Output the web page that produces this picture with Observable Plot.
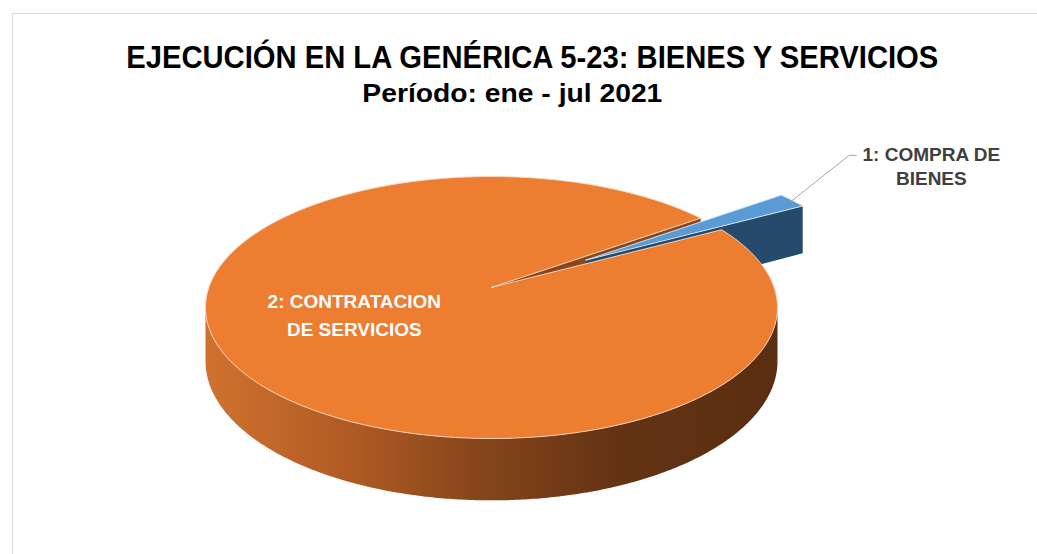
<!DOCTYPE html>
<html><head><meta charset="utf-8">
<script src="https://cdn.jsdelivr.net/npm/d3@7"></script>
<script src="https://cdn.jsdelivr.net/npm/@observablehq/plot@0.6"></script>
<style>
html,body{margin:0;padding:0;background:#fff;}
#chart{position:relative;width:1037px;height:554px;overflow:hidden;font-family:"Liberation Sans",Arial,sans-serif;}
#marco{position:absolute;left:12px;top:13px;right:-3px;bottom:-3px;border-top:1px solid #d9d9d9;border-left:1px solid #d9d9d9;}
.tt{position:absolute;width:1037px;text-align:center;white-space:nowrap;font-weight:bold;color:#000;font-family:"Liberation Sans Narrow","Liberation Sans",sans-serif;}
.tt span{display:inline-block;transform-origin:50% 50%;}
#titulo{left:13.5px;top:42px;font-size:30.5px;line-height:30.5px;}
#subtitulo{left:-6.5px;top:81px;font-size:25.5px;line-height:25.5px;}
#plot{position:absolute;left:0;top:130px;}
</style></head><body>
<div id="chart"><div id="marco"></div>
<div id="titulo" class="tt"><span></span></div>
<div id="subtitulo" class="tt"><span></span></div>
<div id="plot"></div></div>
<script>
// ---- datos ----
const titulo = "EJECUCIÓN EN LA GENÉRICA 5-23: BIENES Y SERVICIOS";
const subtitulo = "Período: ene - jul 2021";
const categorias = ["1: COMPRA DE BIENES", "2: CONTRATACION DE SERVICIOS"];
const etiquetas = ["1: COMPRA DE\nBIENES", "2: CONTRATACION\nDE SERVICIOS"];
const porcentajes = [2.0, 98.0];

// ---- títulos ----
document.querySelector("#titulo span").textContent = titulo;
document.querySelector("#subtitulo span").textContent = subtitulo;
function ajustar(sel, ancho) {
  const s = document.querySelector(sel + " span");
  const w = s.getBoundingClientRect().width;
  if (w > 0) s.style.transform = `scaleX(${ancho / w})`;
}
ajustar("#titulo", 812);
ajustar("#subtitulo", 300);

// ---- geometría del pastel 3D ----
const G = Math.PI / 180;
const inicio = 53.8 * G;
const persp = 0.153, esc = Math.sqrt(1 - persp * persp), prof = 0.40;
const explosion = [0.41, 0];
const topColor = ["#5b9bd5", "#ed7d31"];
const cutColor = ["#264a6b", "#8a461b"];
const wallColor = ["#2f5f8c", "url(#ladoGrad)"];
const edgeColor = ["#dbe9f6", "#fbdcc6"];

const arcos = d3.pie().sort(null).startAngle(inicio).endAngle(inicio + 2 * Math.PI)(porcentajes);

function P(u, v, abajo) { const w = 1 + persp * v; return [esc * u / w, (v + persp) / w - (abajo ? prof / w : 0)]; }
function despl(a, i) { const m = (a.startAngle + a.endAngle) / 2, e = explosion[i]; return [e * Math.sin(m), e * Math.cos(m)]; }
function borde(t, o, abajo, rad = 1) { return P(o[0] + rad * Math.sin(t), o[1] + rad * Math.cos(t), abajo); }
function arco(t0, t1, o, abajo) {
  const n = Math.max(2, Math.ceil(Math.abs(t1 - t0) / (0.5 * G)));
  return d3.range(n + 1).map(k => borde(t0 + (t1 - t0) * k / n, o, abajo));
}
const tv0 = Math.acos(-persp), tv1 = 2 * Math.PI - tv0;
function tramo(a0, a1) {
  for (const k of [-1, 0, 1, 2]) {
    const lo = Math.max(a0, tv0 + 2 * Math.PI * k), hi = Math.min(a1, tv1 + 2 * Math.PI * k);
    if (hi > lo) return [lo, hi];
  }
  return null;
}
function cara(t, o) { return [P(o[0], o[1], false), borde(t, o, false), borde(t, o, true), P(o[0], o[1], true)]; }

const capas = [];
function caras(a, i) {
  const o = despl(a, i);
  if (Math.sin(a.endAngle) > 0) capas.push({pts: cara(a.endAngle, o), fill: cutColor[i]});
  if (Math.sin(a.startAngle) < 0) capas.push({pts: cara(a.startAngle, o), fill: cutColor[i]});
}
function cuerpo(a, i) {
  const o = despl(a, i);
  const tr = tramo(a.startAngle, a.endAngle);
  if (tr) capas.push({pts: [...arco(tr[0], tr[1], o, false), ...arco(tr[1], tr[0], o, true)], fill: wallColor[i]});
  const top = [P(o[0], o[1], false), ...arco(a.startAngle, a.endAngle, o, false)];
  top.push(top[0]);
  capas.push({pts: top, fill: topColor[i], stroke: edgeColor[i]});
}
arcos.forEach((a, i) => { if (!explosion[i]) caras(a, i); });
arcos.forEach((a, i) => { if (explosion[i]) { caras(a, i); cuerpo(a, i); } });
arcos.forEach((a, i) => { if (!explosion[i]) cuerpo(a, i); });

// ---- etiquetas ----
const etiq = arcos.map((a, i) => {
  const m = (a.startAngle + a.endAngle) / 2, o = despl(a, i);
  if (explosion[i]) {
    const p = borde(m, o, false);
    const codo = [p[0] + 0.199, p[1] + 0.344];
    const fin = [codo[0] + 0.025, codo[1]];
    return {i, dentro: false, lider: [p, codo, fin], x: fin[0], y: fin[1], texto: etiquetas[i]};
  }
  const p = borde(m, o, false, 0.55);
  return {i, dentro: true, x: p[0], y: p[1], texto: etiquetas[i]};
});

const marks = capas.map(c => Plot.line(c.pts, {
  x: d => d[0], y: d => d[1], fill: c.fill,
  stroke: c.stroke || "none", strokeWidth: c.stroke ? 1 : 0, strokeOpacity: 0.9,
  strokeLinejoin: "round", curve: "linear"
}));
etiq.filter(e => !e.dentro).forEach(e => {
  marks.push(Plot.line(e.lider, {x: d => d[0], y: d => d[1], stroke: "#a6a6a6", strokeWidth: 1}));
  marks.push(Plot.text([e], {x: "x", y: "y", text: "texto", fill: "#404040", fontWeight: "bold",
    fontSize: 19, lineHeight: 1.27, textAnchor: "middle", lineAnchor: "middle", dx: 75, dy: 10,
    fontFamily: "'Liberation Sans', Arial, sans-serif"}));
});
etiq.filter(e => e.dentro).forEach(e => {
  marks.push(Plot.text([e], {x: "x", y: "y", text: "texto", fill: "#ffffff", fontWeight: "bold",
    fontSize: 19, lineHeight: 1.47, textAnchor: "middle", lineAnchor: "middle", dy: -14,
    fontFamily: "'Liberation Sans', Arial, sans-serif"}));
});

const svg = Plot.plot({
  width: 1037, height: 424, margin: 0,
  x: {domain: [-1, 1], range: [205, 777], axis: null},
  y: {domain: [-1, 1], range: [308, 46], axis: null},
  style: {background: "transparent", overflow: "visible"},
  marks
});
const ns = "http://www.w3.org/2000/svg";
const defs = document.createElementNS(ns, "defs");
const grad = document.createElementNS(ns, "linearGradient");
grad.setAttribute("id", "ladoGrad");
grad.setAttribute("x1", "0"); grad.setAttribute("x2", "1"); grad.setAttribute("y1", "0"); grad.setAttribute("y2", "0");
[["0", "#d0722f"], ["0.25", "#b05b24"], ["0.5", "#82441a"], ["0.72", "#643314"], ["1", "#5a2e11"]].forEach(([o, c]) => {
  const s = document.createElementNS(ns, "stop");
  s.setAttribute("offset", o); s.setAttribute("stop-color", c); grad.appendChild(s);
});
defs.appendChild(grad);
svg.insertBefore(defs, svg.firstChild);
document.getElementById("plot").appendChild(svg);
</script>
</body></html>
